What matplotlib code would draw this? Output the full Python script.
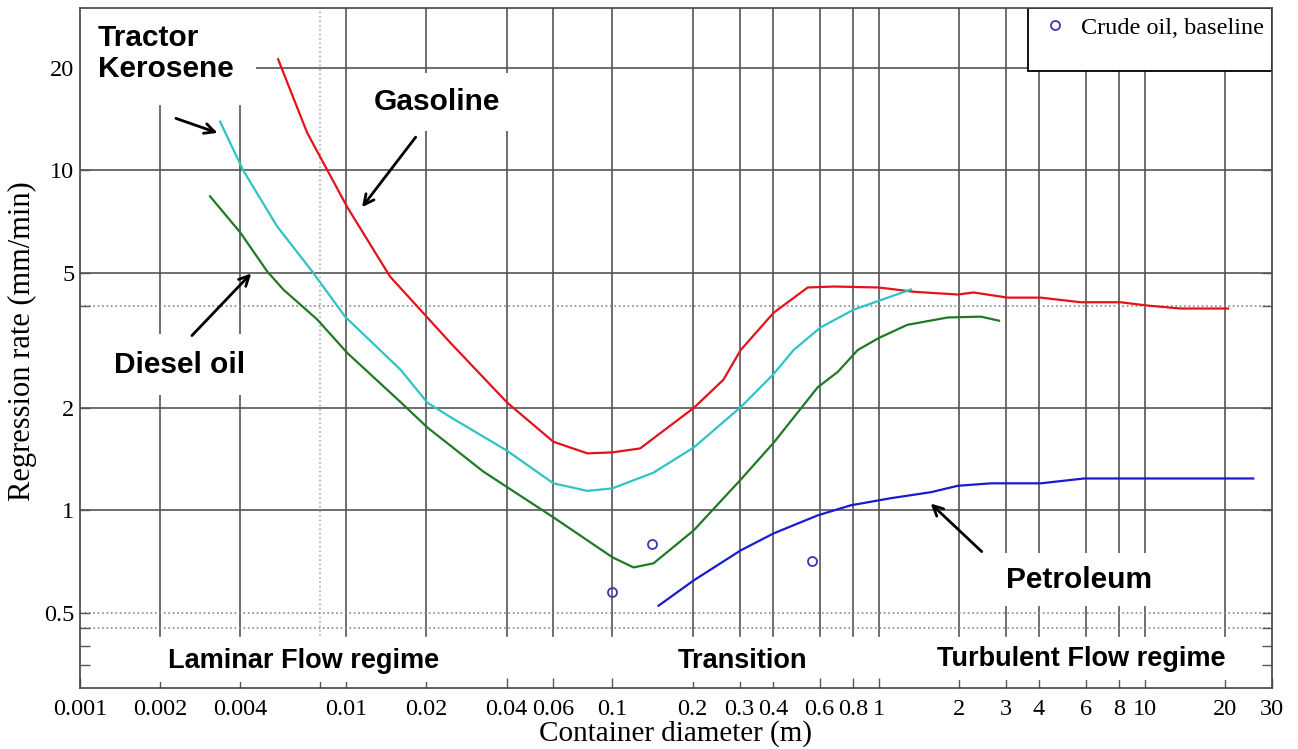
import numpy as np
import matplotlib.pyplot as plt
from matplotlib.patches import Rectangle

# container diameter (m) / regression rate (mm/min)
gas_d = [0.00555, 0.00713, 0.0101, 0.0146, 0.0246, 0.0403, 0.060, 0.0805, 0.10, 0.127, 0.202,
         0.261, 0.303, 0.403, 0.541, 0.678, 1.0, 1.36, 1.98, 2.27, 3.05, 4.06, 5.74, 8.1, 10.2, 13.6, 20.5]
gas_r = [21.2, 12.9, 7.78, 4.87, 3.11, 2.07, 1.59, 1.47, 1.48, 1.52, 2.0,
         2.42, 2.96, 3.81, 4.52, 4.55, 4.52, 4.39, 4.31, 4.37, 4.22, 4.22, 4.09, 4.09, 4.0, 3.92, 3.92]

ker_d = [0.00336, 0.0041, 0.0055, 0.00745, 0.0099, 0.016, 0.0202, 0.0246, 0.040, 0.060, 0.0805,
         0.10, 0.1426, 0.202, 0.303, 0.40, 0.479, 0.605, 0.805, 1.11, 1.32]
ker_r = [13.9, 10.0, 6.84, 5.04, 3.71, 2.59, 2.07, 1.88, 1.50, 1.20, 1.14,
         1.16, 1.29, 1.53, 2.01, 2.5, 2.96, 3.45, 3.89, 4.25, 4.46]

dsl_d = [0.00308, 0.0040, 0.00505, 0.0058, 0.00778, 0.0101, 0.016, 0.0202, 0.0246, 0.0327, 0.060,
         0.10, 0.12, 0.1426, 0.202, 0.303, 0.403, 0.59, 0.701, 0.834, 1.0, 1.28, 1.82, 2.42, 2.83]
dsl_r = [8.38, 6.56, 5.04, 4.46, 3.64, 2.9, 2.08, 1.75, 1.55, 1.30, 0.953,
         0.727, 0.679, 0.698, 0.873, 1.23, 1.58, 2.3, 2.55, 2.96, 3.21, 3.51, 3.69, 3.71, 3.61]

pet_d = [0.149, 0.202, 0.303, 0.403, 0.59, 0.785, 1.11, 1.57, 1.98, 2.64, 4.06, 5.9, 25.5]
pet_r = [0.524, 0.622, 0.762, 0.855, 0.966, 1.034, 1.085, 1.13, 1.18, 1.20, 1.20, 1.24, 1.24]

crude_d = [0.10, 0.141, 0.56]
crude_r = [0.573, 0.794, 0.707]

x_ticks = [0.001, 0.002, 0.004, 0.01, 0.02, 0.04, 0.06, 0.1, 0.2, 0.3, 0.4, 0.6, 0.8,
           1, 2, 3, 4, 6, 8, 10, 20, 30]
x_labels = ['0.001', '0.002', '0.004', '0.01', '0.02', '0.04', '0.06', '0.1', '0.2', '0.3', '0.4',
            '0.6', '0.8', '1', '2', '3', '4', '6', '8', '10', '20', '30']
y_ticks = [0.5, 1, 2, 5, 10, 20]
y_labels = ['0.5', '1', '2', '5', '10', '20']

serif = 'Liberation Serif'
sans = 'Liberation Sans'

fig = plt.figure(figsize=(12.98, 7.49), dpi=100)
ax = fig.add_axes([0.0616, 0.0814, 0.9184, 0.9079])
ax.set_xscale('log')
ax.set_yscale('log')
ax.set_xlim(0.001, 30)
ax.set_ylim(0.3, 30)

# grid
gc = '#555555'
for xv in x_ticks[1:-1]:
    ax.plot([xv, xv], [0.428, 30], color=gc, lw=1.2, zorder=1)
ax.plot([0.008, 0.008], [0.428, 30], color='#aaaaaa', lw=1.2, ls=':', zorder=1)
for yv in [1, 2, 5, 10, 20]:
    ax.plot([0.001, 30], [yv, yv], color=gc, lw=1.2, zorder=1)
for yv in [4, 0.5, 0.45]:
    ax.plot([0.001, 30], [yv, yv], color='#888888', lw=1.2, ls=':', zorder=1)

# curves
ax.plot(gas_d, gas_r, color='#e3121b', lw=1.6, zorder=4)
ax.plot(ker_d, ker_r, color='#2ec4c4', lw=1.6, zorder=4)
ax.plot(dsl_d, dsl_r, color='#1f7a24', lw=1.6, zorder=4)
ax.plot(pet_d, pet_r, color='#1a1ad0', lw=1.6, zorder=4)
ax.plot(crude_d, crude_r, 'o', mfc='none', mec='#3a3ab0', ms=6.5, mew=1.3, zorder=5,
        label='Crude oil, baseline')

ax.set_xticks(x_ticks)
ax.set_xticklabels(x_labels)
ax.set_xticks([0.008], minor=True)
ax.set_yticks(y_ticks)
ax.set_yticklabels(y_labels)
ax.set_yticks([4, 0.45, 0.4, 0.35], minor=True)
ax.set_yticklabels([], minor=True)
ax.set_xticklabels([], minor=True)
ax.tick_params(axis='both', which='both', direction='in', length=7, width=1, color='#555555',
               labelsize=17.5, right=True)
for lbl in ax.get_xticklabels() + ax.get_yticklabels():
    lbl.set_fontfamily(serif)
ax.tick_params(axis='x', pad=8)
ax.tick_params(axis='y', pad=4)
for s in ax.spines.values():
    s.set_color('#444444')
    s.set_linewidth(1.2)
    s.set_zorder(10)

ax.set_xlabel('Container diameter (m)', fontsize=21, fontfamily=serif, labelpad=0)
ax.set_ylabel('Regression rate (mm/min)', fontsize=22, fontfamily=serif)
ax.yaxis.set_label_coords(-0.036, 0.51)

# legend box
ax.add_patch(Rectangle((0.795, 0.907), 0.205, 0.093, transform=ax.transAxes,
                       facecolor='white', edgecolor='black', lw=1.3, zorder=6))
leg = ax.legend(loc='upper right', frameon=False, handlelength=1.0, handletextpad=0.55,
                borderaxespad=0.0, borderpad=0.35, prop={'family': serif, 'size': 17.5})
leg.set_zorder(7)

# annotations
def wb(p):
    return dict(facecolor='white', edgecolor='none', pad=p)

tk = dict(fontsize=21.5, fontweight='bold', fontfamily=sans, zorder=3)
rg = dict(fontsize=19.5, fontweight='bold', fontfamily=sans, zorder=3)
ax.text(0.00117, 27.0, 'Tractor\nKerosene', ha='left', va='top', linespacing=1.15,
        bbox=wb(16), **tk)
ax.text(0.022, 15.9, 'Gasoline', ha='center', va='center', bbox=wb(11), **tk)
ax.text(0.00236, 2.68, 'Diesel oil', ha='center', va='center', bbox=wb(12), **tk)
ax.text(5.65, 0.625, 'Petroleum', ha='center', va='center', bbox=wb(9), **tk)
ax.text(0.00689, 0.361, 'Laminar Flow regime', ha='center', va='center', bbox=wb(6), **rg)
ax.text(0.308, 0.361, 'Transition', ha='center', va='center', bbox=wb(6), **rg)
ax.text(5.74, 0.365, 'Turbulent Flow regime', ha='center', va='center', bbox=wb(6), **rg)

arr = dict(arrowstyle='->', color='black', lw=2, mutation_scale=18)
ax.annotate('', xy=(0.00336, 12.8), xytext=(0.00224, 14.3), arrowprops=arr, zorder=5)
ax.annotate('', xy=(0.0113, 7.67), xytext=(0.0185, 12.7), arrowprops=arr, zorder=5)
ax.annotate('', xy=(0.00447, 5.04), xytext=(0.00259, 3.22), arrowprops=arr, zorder=5)
ax.annotate('', xy=(1.54, 1.06), xytext=(2.48, 0.746), arrowprops=arr, zorder=5)

fig.savefig('out.png', dpi=100)
